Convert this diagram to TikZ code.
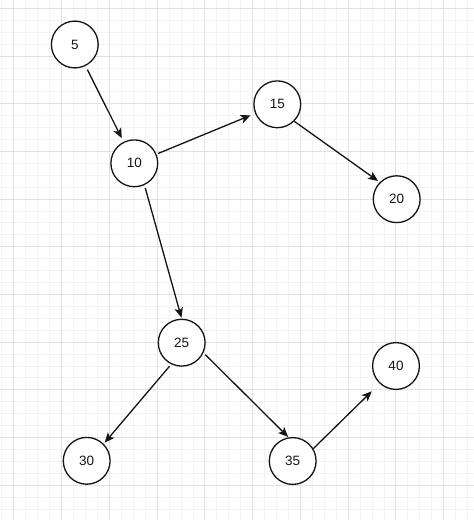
\documentclass[tikz,border=0pt]{standalone}
\usepackage{fontspec}
\setmainfont{Liberation Sans}
\usetikzlibrary{arrows.meta}
\definecolor{gridminor}{RGB}{243,243,243}
\definecolor{gridmajor}{RGB}{226,226,226}
\definecolor{inkc}{RGB}{20,20,20}
\tikzset{
  treenode/.style={circle, draw=inkc, line width=1.3pt, minimum size=46.8pt, inner sep=0pt,
    fill=white, text=inkc, font=\fontsize{13.5}{16}\selectfont},
  edge/.style={draw=inkc, line width=1.3pt, -{Stealth[length=10pt,width=8.5pt,inset=2.5pt]}},
  minorline/.style={draw=gridminor, line width=0.8pt},
  majorline/.style={draw=gridmajor, line width=0.9pt}
}
\begin{document}
\begin{tikzpicture}[x=1pt,y=-1pt]
\useasboundingbox (0,0) rectangle (474,520);
\fill[white] (0,0) rectangle (474,520);
% grid
\foreach \i in {0,...,40} {
  \pgfmathsetmacro\xx{1.86+\i*11.94}
  \draw[minorline] (\xx,0) -- (\xx,520);
}
\foreach \i in {0,...,43} {
  \pgfmathsetmacro\yy{8.3+\i*11.92}
  \draw[minorline] (0,\yy) -- (474,\yy);
}
\foreach \i in {0,...,9} {
  \pgfmathsetmacro\xx{13.8+\i*47.76}
  \draw[majorline] (\xx,0) -- (\xx,520);
}
\foreach \i in {0,...,10} {
  \pgfmathsetmacro\yy{8.3+\i*47.68}
  \draw[majorline] (0,\yy) -- (474,\yy);
}
% nodes
\node[treenode] (n5)  at (74.8,44.5)  {5};
\node[treenode] (n10) at (134.3,163.3) {10};
\node[treenode] (n15) at (277.3,104.3) {15};
\node[treenode] (n20) at (396.7,199.2) {20};
\node[treenode] (n25) at (181.7,342.7) {25};
\node[treenode] (n30) at (86.7,460.8)  {30};
\node[treenode] (n35) at (292.7,461)   {35};
\node[treenode] (n40) at (396,366)     {40};
% edges
\draw[edge, shorten <=4pt, shorten >=4pt] (n5) -- (n10);
\draw[edge, shorten <=1.8pt, shorten >=4.8pt] (n10) -- (n15);
\draw[edge, shorten <=3pt, shorten >=1pt] (n10.-65) -- (n25.north);
\draw[edge, shorten >=2pt] (n15.-45) -- (n20.135);
\draw[edge, shorten <=2.5pt, shorten >=1.5pt] (n25.-116) -- (n30.45);
\draw[edge, shorten <=2.6pt, shorten >=0.5pt] (n25.-25) -- (n35.100);
\draw[edge, shorten >=11pt] (n35.31) -- (n40.-133);
\end{tikzpicture}
\end{document}
